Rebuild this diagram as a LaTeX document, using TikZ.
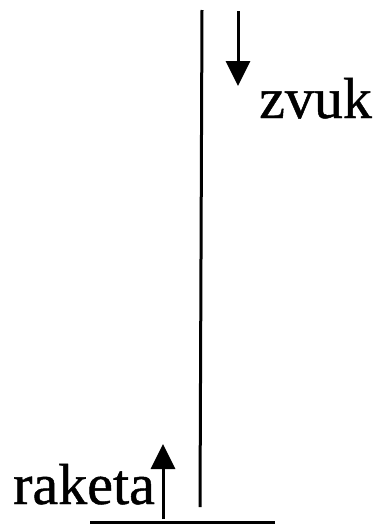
\documentclass[tikz,border=0pt]{standalone}
\usepackage{fontspec}
\setmainfont{Liberation Serif}
\newfontfamily\lblfont[FakeBold=0.8]{Liberation Serif}
\usetikzlibrary{arrows.meta}
\begin{document}
\begin{tikzpicture}[x=1pt,y=-1pt,
  ln/.style={line width=3pt},
  arr/.style={line width=3pt,-{Triangle[length=25pt,width=24pt]}},
  lbl/.style={font=\lblfont\fontsize{58}{62}\selectfont,inner sep=0pt,anchor=base west}]
\useasboundingbox (0,0) rectangle (381,525);
\coordinate (vtop) at (202,10);
\coordinate (vbot) at (200,507);
\draw[ln] (vtop) -- (vbot);
\coordinate (dstart) at (238,11);
\coordinate (dend) at (238,86);
\draw[arr] (dstart) -- (dend);
\node[lbl] (zvuk) at (259,118) {zvuk};
\coordinate (ustart) at (163,519);
\coordinate (uend) at (163,444);
\draw[arr] (ustart) -- (uend);
\node[lbl] (raketa) at (13,504) {raketa};
\coordinate (gl) at (90,522);
\coordinate (gr) at (275,522);
\draw[ln] (gl) -- (gr);
\end{tikzpicture}
\end{document}
